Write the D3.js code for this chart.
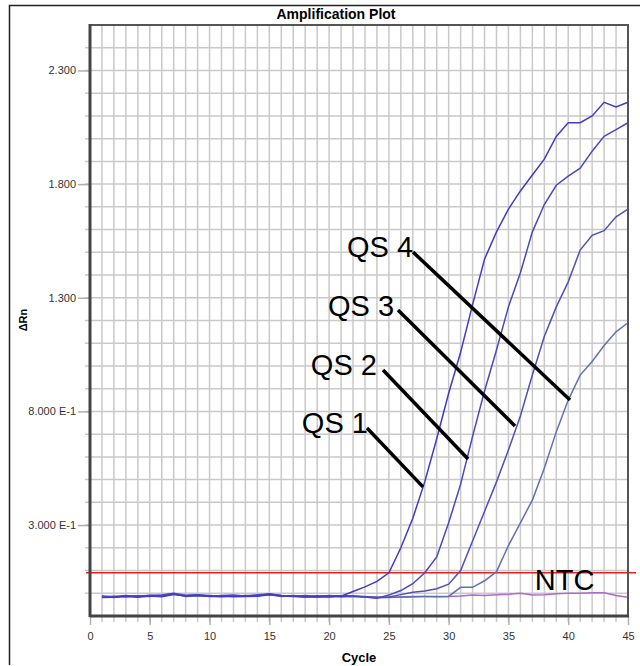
<!DOCTYPE html>
<html><head><meta charset="utf-8">
<script src="https://cdn.jsdelivr.net/npm/d3@7"></script>
<style>body{margin:0;background:#fff}svg{display:block}text{font-family:"Liberation Sans",Arial,sans-serif}</style>
</head><body>
<script>
const cycles = d3.range(1, 46);
const qs1 = [-0.019,-0.018,-0.014,-0.017,-0.012,-0.015,-0.005,-0.012,-0.010,-0.014,-0.013,-0.015,-0.014,-0.013,-0.007,-0.012,-0.014,-0.016,-0.015,-0.016,-0.013,
  0.008,0.028,0.052,0.09,0.20,0.33,0.49,0.68,0.88,1.06,1.27,1.47,1.59,1.69,1.77,1.84,1.91,2.01,2.07,2.07,2.10,2.16,2.14,2.16];
const qs2 = [-0.012,-0.016,-0.010,-0.015,-0.009,-0.008,0.000,-0.009,-0.006,-0.013,-0.010,-0.008,-0.012,-0.007,-0.003,-0.011,-0.013,-0.010,-0.014,-0.010,-0.013,
  -0.012,-0.016,-0.022,-0.008,0.012,0.042,0.09,0.16,0.31,0.48,0.69,0.89,1.07,1.26,1.41,1.59,1.71,1.795,1.835,1.87,1.945,2.01,2.04,2.07];
const qs3 = [-0.017,-0.013,-0.015,-0.011,-0.012,-0.011,-0.003,-0.012,-0.008,-0.010,-0.013,-0.013,-0.010,-0.012,-0.002,-0.010,-0.012,-0.016,-0.011,-0.015,-0.011,
  -0.013,-0.015,-0.018,-0.016,-0.006,0.004,0.010,0.020,0.040,0.10,0.23,0.36,0.49,0.63,0.78,0.96,1.13,1.26,1.37,1.51,1.575,1.595,1.656,1.69];
const qs4 = [-0.014,-0.019,-0.011,-0.013,-0.014,-0.009,-0.001,-0.014,-0.011,-0.012,-0.015,-0.011,-0.013,-0.010,-0.005,-0.014,-0.010,-0.013,-0.016,-0.011,-0.016,
  -0.014,-0.016,-0.020,-0.019,-0.016,-0.014,-0.014,-0.015,-0.014,0.026,0.026,0.055,0.095,0.21,0.31,0.41,0.55,0.71,0.85,0.96,1.02,1.09,1.15,1.19];
const ntc = [-0.014,-0.014,-0.012,-0.011,-0.010,-0.010,-0.003,-0.011,-0.008,-0.011,-0.011,-0.011,-0.011,-0.009,-0.005,-0.010,-0.012,-0.013,-0.012,-0.013,-0.011,
  -0.012,-0.014,-0.018,-0.018,-0.017,-0.016,-0.014,-0.014,-0.014,-0.012,-0.008,-0.010,-0.006,-0.004,0.000,-0.008,-0.006,-0.002,0.000,0.000,0.002,0.002,-0.010,-0.018];
const threshold = 0.09;
const yTickValues = [0.3, 0.8, 1.3, 1.8, 2.3];
const yTickLabels = ["3.000 E-1", "8.000 E-1", "1.300", "1.800", "2.300"];
const xTickValues = [0, 5, 10, 15, 20, 25, 30, 35, 40, 45];
const seriesNames = ["QS 1", "QS 2", "QS 3", "QS 4", "NTC"];
const seriesColors = ["#4438c8", "#4848c0", "#5050b8", "#6270b0", "#b068d0"];
// pointer annotations: [labelCycle, labelValue, fromCycle, fromValue, toCycle, toValue]
const pointers = [
  [23.25, 0.705, 23.17, 0.727, 27.85, 0.468],
  [24.0, 0.960, 24.51, 0.982, 31.62, 0.591],
  [25.43, 1.220, 25.76, 1.246, 35.55, 0.736],
  [27.02, 1.479, 27.02, 1.501, 40.15, 0.850]
];
const ntcLabel = [37.2, 0.014];

const W = 640, H = 666;
const svg = d3.select("body").append("svg").attr("width", W).attr("height", H);
const x = d3.scaleLinear().domain([0, 45]).range([90, 628]);
const y = d3.scaleLinear().domain([-0.1, 2.5]).range([616, 25]);

// outer frame
svg.append("path").attr("d", `M9.5,665 V5.5 H640`).attr("fill", "none").attr("stroke", "#222").attr("stroke-width", 1.5);

// gridlines
const grid = svg.append("g").attr("stroke", "#c9c9c9").attr("stroke-width", 1.5);
grid.selectAll(".gv").data(d3.range(1, 45)).join("line")
  .attr("x1", d => x(d)).attr("x2", d => x(d)).attr("y1", y(2.5)).attr("y2", y(-0.1) + 6);
grid.selectAll(".gh").data(d3.range(0, 25).map(i => +(i * 0.1).toFixed(1))).join("line")
  .attr("x1", x(0) - 5).attr("x2", x(45)).attr("y1", d => y(d)).attr("y2", d => y(d));

// threshold
svg.append("line").attr("x1", x(0) - 4).attr("x2", x(45) + 8).attr("y1", y(threshold)).attr("y2", y(threshold))
  .attr("stroke", "#e82020").attr("stroke-width", 1.5);

// curves (NTC first, QS 1 on top)
const allSeries = [qs1, qs2, qs3, qs4, ntc].map((v, i) => ({ v, i }));
const line = d3.line().x((d, i) => x(cycles[i])).y(d => y(d));
svg.append("g").selectAll("path").data(allSeries.slice().reverse()).join("path")
  .attr("d", d => line(d.v)).attr("fill", "none")
  .attr("stroke", d => seriesColors[d.i]).attr("stroke-width", 1.5);

// axes
const yAxis = d3.axisLeft(y).tickValues(yTickValues).tickFormat((d, i) => yTickLabels[i]).tickSize(12).tickPadding(2);
const gy = svg.append("g").attr("transform", `translate(${x(0)},0)`).call(yAxis);
gy.select(".domain").remove();
gy.selectAll(".tick line").attr("stroke", "#b0b0b0").attr("stroke-width", 1.5);
gy.selectAll("text").attr("font-size", 11).attr("fill", "#333");

const xAxis = d3.axisBottom(x).tickValues(xTickValues).tickFormat(d3.format("d")).tickSize(9).tickPadding(7);
const gx = svg.append("g").attr("transform", `translate(0,${y(-0.1)})`).call(xAxis);
gx.select(".domain").remove();
gx.selectAll(".tick line").attr("stroke", "#b0b0b0").attr("stroke-width", 1.5);
gx.selectAll("text").attr("font-size", 11).attr("fill", "#333");

// plot frame
svg.append("rect").attr("x", x(0)).attr("y", y(2.5)).attr("width", x(45) - x(0)).attr("height", y(-0.1) - y(2.5))
  .attr("fill", "none").attr("stroke", "#555").attr("stroke-width", 2);
svg.append("line").attr("x1", x(0)).attr("x2", x(0)).attr("y1", y(2.5) - 1).attr("y2", y(-0.1) + 1)
  .attr("stroke", "#444").attr("stroke-width", 3);
svg.append("line").attr("x1", x(0)).attr("x2", x(45) + 1).attr("y1", y(-0.1)).attr("y2", y(-0.1))
  .attr("stroke", "#444").attr("stroke-width", 3);

// pointers and labels
const ann = svg.append("g");
ann.selectAll("line").data(pointers).join("line")
  .attr("x1", d => x(d[2])).attr("y1", d => y(d[3])).attr("x2", d => x(d[4])).attr("y2", d => y(d[5]))
  .attr("stroke", "#000").attr("stroke-width", 3.5);
ann.selectAll("text").data(pointers).join("text")
  .attr("x", d => x(d[0])).attr("y", d => y(d[1])).attr("text-anchor", "end")
  .attr("font-size", 29).attr("fill", "#000").text((d, i) => seriesNames[i]);
svg.append("text").attr("x", x(ntcLabel[0])).attr("y", y(ntcLabel[1])).attr("font-size", 29).attr("fill", "#000").text(seriesNames[4]);

// titles
svg.append("text").attr("x", 336).attr("y", 19).attr("text-anchor", "middle").attr("font-size", 14).attr("font-weight", "bold").text("Amplification Plot");
svg.append("text").attr("x", 359).attr("y", 662).attr("text-anchor", "middle").attr("font-size", 13).attr("font-weight", "bold").text("Cycle");
svg.append("text").attr("transform", "translate(27,320) rotate(-90)").attr("text-anchor", "middle").attr("font-size", 11).attr("font-weight", "bold").text("ΔRn");
</script>
</body></html>
